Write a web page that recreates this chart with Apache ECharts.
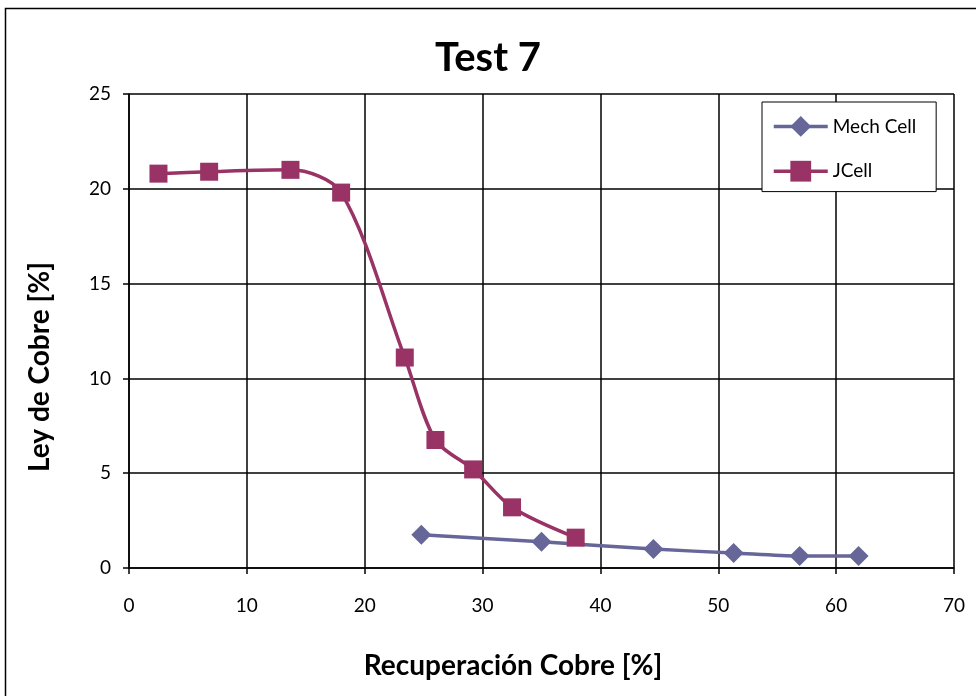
<!DOCTYPE html>
<html>
<head>
<meta charset="utf-8">
<script src="https://cdn.jsdelivr.net/npm/echarts@6/dist/echarts.min.js"></script>
<style>
  html, body { margin: 0; padding: 0; background: #fff; }
  #chart { width: 976px; height: 696px; }
</style>
</head>
<body>
<div id="chart"></div>
<script>
// Recuperación (x) vs. Ley (y) for each cell type
const mechRecovery = [24.8, 35.0, 44.5, 51.3, 56.9, 61.9];
const mechGrade    = [1.75, 1.38, 1.00, 0.79, 0.63, 0.63];

const jcellRecovery = [2.5, 6.8, 13.7, 18.0, 23.4, 26.0, 29.2, 32.5, 37.9];
const jcellGrade    = [20.8, 20.9, 21.0, 19.8, 11.1, 6.75, 5.2, 3.2, 1.6];

const seriesNames = ['Mech Cell', 'JCell'];
const xTicks = { min: 0, max: 70, step: 10 };
const yTicks = { min: 0, max: 25, step: 5 };
const xTitle = 'Recuperación Cobre [%]';
const yTitle = 'Ley de Cobre [%]';

const FONT = 'Lato, "Open Sans", sans-serif';
const axisTitleStyle = { fontFamily: FONT, fontSize: 28, fontWeight: 'bold', fill: '#000' };

const zip = (xs, ys) => xs.map((x, i) => [x, ys[i]]);

const chart = echarts.init(document.getElementById('chart'), null, { renderer: 'canvas' });

chart.setOption({
  backgroundColor: '#ffffff',
  animation: false,
  title: {
    text: 'Test 7',
    left: 'center',
    top: 33,
    textStyle: { fontFamily: FONT, fontSize: 40, fontWeight: 'bold', color: '#000' }
  },
  graphic: [
    {
      type: 'rect',
      shape: { x: 5.5, y: 8.5, width: 1000, height: 720 },
      style: { fill: 'none', stroke: '#000', lineWidth: 1.5 },
      silent: true
    },
    {
      type: 'text',
      x: 513, y: 666,
      style: Object.assign({ text: xTitle, align: 'center', verticalAlign: 'middle' }, axisTitleStyle),
      silent: true
    },
    {
      type: 'text',
      x: 40, y: 367,
      rotation: Math.PI / 2,
      style: Object.assign({ text: yTitle, align: 'center', verticalAlign: 'middle' }, axisTitleStyle),
      silent: true
    }
  ],
  legend: {
    orient: 'vertical',
    left: 762,
    top: 102,
    padding: [14, 20, 10, 10],
    itemGap: 24,
    itemWidth: 54,
    itemHeight: 26,
    backgroundColor: '#fff',
    borderColor: '#000',
    borderWidth: 1,
    borderRadius: 0,
    data: seriesNames,
    lineStyle: { width: 3.5 },
    textStyle: { fontFamily: FONT, fontSize: 19, color: '#000' }
  },
  grid: {
    left: 129, right: 22, top: 94, bottom: 128,
    containLabel: false
  },
  xAxis: {
    type: 'value',
    min: xTicks.min, max: xTicks.max, interval: xTicks.step,
    axisLine: { show: true, onZero: false, lineStyle: { color: '#000', width: 1.5 } },
    axisTick: { show: true, inside: false, length: 6, lineStyle: { color: '#000', width: 1.5 } },
    axisLabel: { margin: 28, fontFamily: FONT, fontSize: 19, color: '#000' },
    splitLine: { show: true, lineStyle: { color: '#000', width: 1.5 } }
  },
  yAxis: {
    type: 'value',
    min: yTicks.min, max: yTicks.max, interval: yTicks.step,
    axisLine: { show: true, lineStyle: { color: '#000', width: 1.5 } },
    axisTick: { show: true, inside: false, length: 6, lineStyle: { color: '#000', width: 1.5 } },
    axisLabel: { margin: 18, fontFamily: FONT, fontSize: 19, color: '#000' },
    splitLine: { show: true, lineStyle: { color: '#000', width: 1.5 } }
  },
  series: [
    {
      name: seriesNames[0],
      type: 'line',
      data: zip(mechRecovery, mechGrade),
      smooth: 0.3,
      symbol: 'diamond',
      symbolSize: 20,
      lineStyle: { color: '#666699', width: 3.5 },
      itemStyle: { color: '#666699' },
      z: 3
    },
    {
      name: seriesNames[1],
      type: 'line',
      data: zip(jcellRecovery, jcellGrade),
      smooth: 0.3,
      symbol: 'rect',
      symbolSize: 18,
      lineStyle: { color: '#993366', width: 3.5 },
      itemStyle: { color: '#993366' },
      z: 4
    }
  ]
});
</script>
</body>
</html>
